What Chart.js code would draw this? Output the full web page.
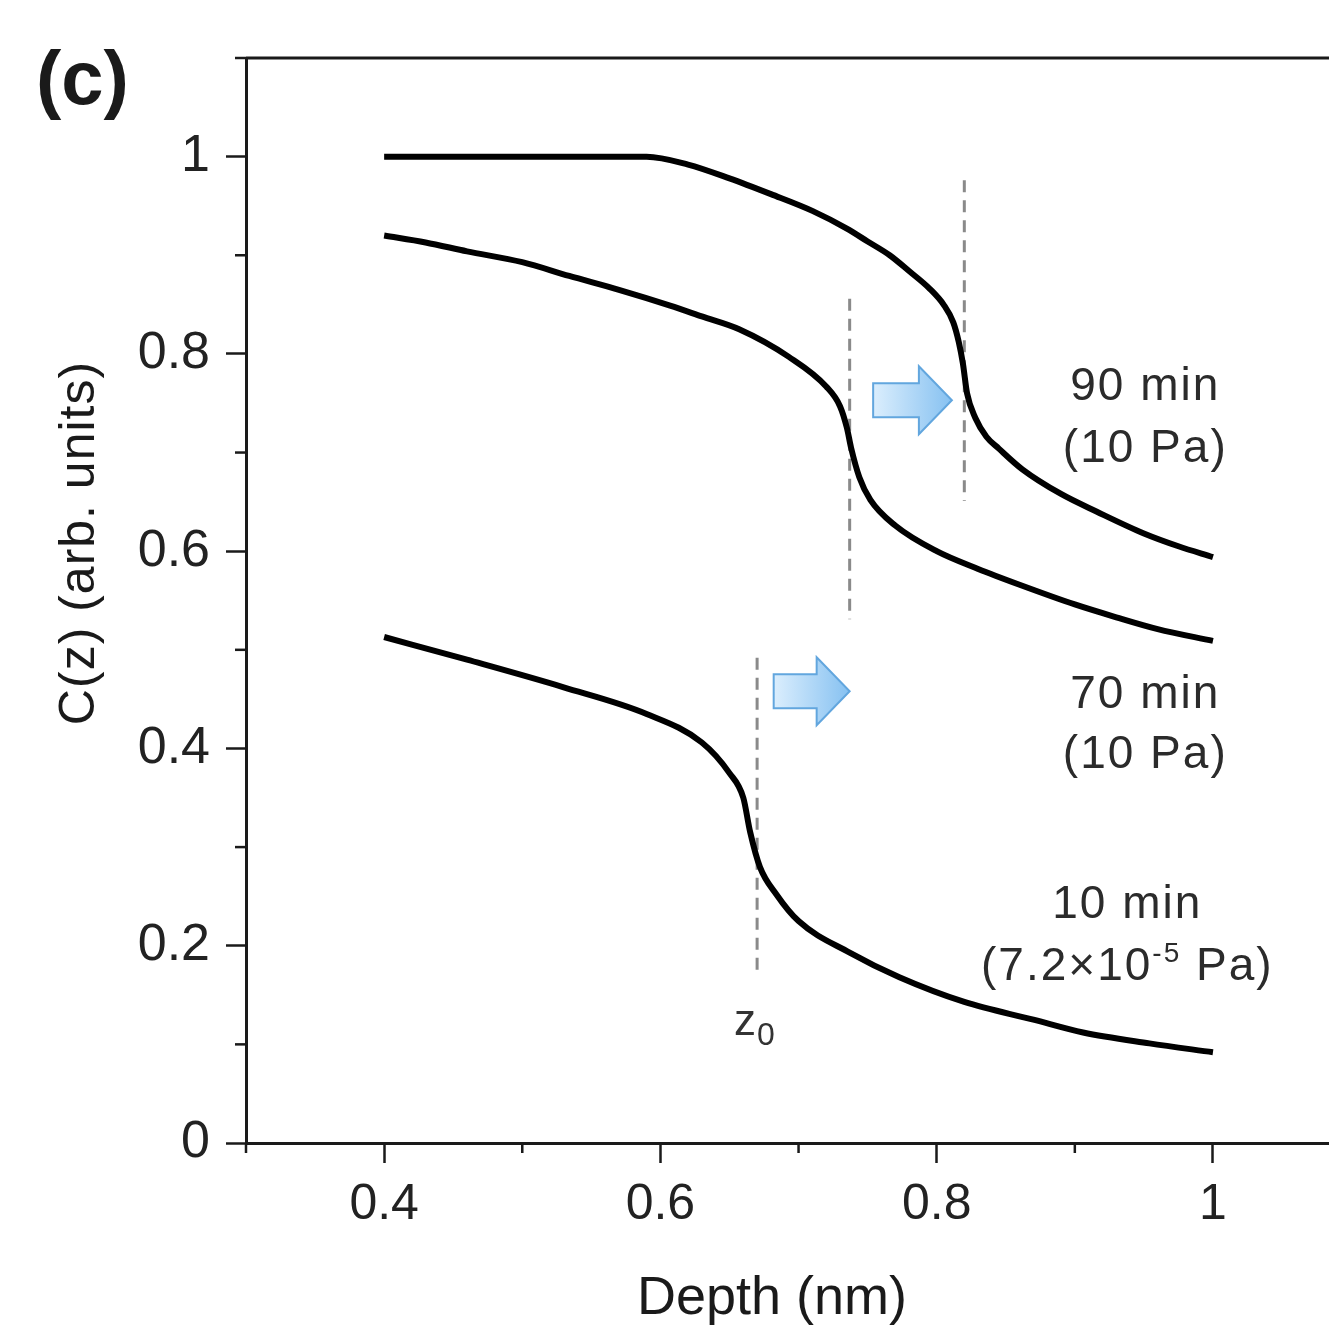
<!DOCTYPE html>
<html>
<head>
<meta charset="utf-8">
<script src="https://cdn.jsdelivr.net/npm/chart.js@4.4.1/dist/chart.umd.min.js"></script>
<style>
  html, body { margin: 0; padding: 0; background: #fff; }
  #wrap { width: 1329px; height: 1338px; position: relative; }
</style>
</head>
<body>
<div id="wrap"><canvas id="chartCz"></canvas></div>
<script>
// C(z) vs depth, three annealing times
const depth90 = [0.40, 0.50, 0.59, 0.62, 0.65, 0.68, 0.71, 0.735, 0.75, 0.766, 0.78, 0.795, 0.805, 0.812, 0.816, 0.819, 0.822, 0.828, 0.836, 0.845, 0.862, 0.89, 0.916, 0.95, 0.975, 1.0];
const cz90 = [1.000, 1.000, 1.000, 0.992, 0.978, 0.962, 0.945, 0.927, 0.914, 0.900, 0.884, 0.866, 0.850, 0.832, 0.812, 0.790, 0.760, 0.735, 0.716, 0.704, 0.683, 0.658, 0.640, 0.618, 0.605, 0.594];

const depth70 = [0.40, 0.43, 0.46, 0.50, 0.534, 0.57, 0.607, 0.63, 0.657, 0.693, 0.72, 0.73, 0.735, 0.738, 0.744, 0.752, 0.77, 0.80, 0.83, 0.86, 0.90, 0.93, 0.96, 1.0];
const cz70 = [0.920, 0.913, 0.904, 0.893, 0.879, 0.865, 0.849, 0.838, 0.825, 0.797, 0.767, 0.747, 0.725, 0.705, 0.675, 0.652, 0.626, 0.600, 0.582, 0.566, 0.546, 0.533, 0.521, 0.509];

const depth10 = [0.40, 0.46, 0.53, 0.59, 0.63, 0.65, 0.66, 0.665, 0.672, 0.684, 0.70, 0.737, 0.773, 0.82, 0.87, 0.906, 0.954, 1.0];
const cz10 = [0.513, 0.490, 0.462, 0.435, 0.406, 0.375, 0.350, 0.315, 0.280, 0.252, 0.225, 0.193, 0.168, 0.143, 0.125, 0.112, 0.101, 0.092];

// z0 markers (dashed) and shift arrows
const z0Depth = [0.670, 0.737, 0.820];
const z0Top = [0.492, 0.856, 0.976];
const z0Bottom = [0.168, 0.531, 0.651];
const arrowFrom = [0.682, 0.754];
const arrowTo = [0.737, 0.811];
const arrowY = [0.458, 0.753];

// axis ticks
const xTicks = [0.4, 0.6, 0.8, 1.0];
const xMinor = [0.3, 0.5, 0.7, 0.9];
const yTicks = [0, 0.2, 0.4, 0.6, 0.8, 1.0];
const yMinor = [0.1, 0.3, 0.5, 0.7, 0.9, 1.1];

// curve labels
const labelX = [0.951, 0.951, 0.938];
const labelTime = ['90 min', '70 min', '10 min'];
const labelTimeY = [0.7535, 0.441, 0.228];
const labelPress = [['(10 Pa)'], ['(10 Pa)'], ['(7.2×10', '-5', ' Pa)']];
const labelPressY = [0.690, 0.380, 0.165];

const FONT = '"Liberation Sans", Arial, sans-serif';
const INK = '#1a1a1a';

const pts = (xs, ys) => xs.map((v, i) => ({ x: v, y: ys[i] }));

const curve = (label, xs, ys) => ({
    label: label,
    data: pts(xs, ys),
    borderColor: '#000',
    borderWidth: 6,
    pointRadius: 0,
    cubicInterpolationMode: 'monotone',
    fill: false,
    order: 1
});

const datasets = [
    curve('90 min', depth90, cz90),
    curve('70 min', depth70, cz70),
    curve('10 min', depth10, cz10)
];
z0Depth.forEach((d, i) => {
    datasets.push({
        label: 'z0 ' + i,
        data: [{ x: d, y: z0Top[i] }, { x: d, y: z0Bottom[i] }],
        borderColor: '#8a8a8a',
        borderWidth: 3,
        borderDash: [12, 8],
        pointRadius: 0,
        fill: false,
        order: 2
    });
});

// arrows, labels, minor ticks, frame, titles
const decor = {
    id: 'decor',
    afterDraw(chart) {
        const { ctx, chartArea: a, scales: { x, y } } = chart;
        ctx.save();

        // top frame line
        ctx.strokeStyle = INK;
        ctx.lineWidth = 3;
        ctx.beginPath();
        ctx.moveTo(a.left, a.top);
        ctx.lineTo(a.right, a.top);
        ctx.stroke();

        // minor ticks
        ctx.lineWidth = 2.5;
        xMinor.forEach(v => {
            const px = x.getPixelForValue(v);
            ctx.beginPath();
            ctx.moveTo(px, a.bottom);
            ctx.lineTo(px, a.bottom + 10);
            ctx.stroke();
        });
        yMinor.forEach(v => {
            const py = y.getPixelForValue(v);
            ctx.beginPath();
            ctx.moveTo(a.left - 11, py);
            ctx.lineTo(a.left, py);
            ctx.stroke();
        });

        // blue arrows
        arrowFrom.forEach((v, i) => {
            const x0 = x.getPixelForValue(v);
            const x1 = x.getPixelForValue(arrowTo[i]);
            const cy = y.getPixelForValue(arrowY[i]);
            const hb = x1 - 33;
            const g = ctx.createLinearGradient(x0, 0, x1, 0);
            g.addColorStop(0, '#dbeefd');
            g.addColorStop(1, '#86c1f1');
            ctx.beginPath();
            ctx.moveTo(x0, cy - 17);
            ctx.lineTo(hb, cy - 17);
            ctx.lineTo(hb, cy - 34);
            ctx.lineTo(x1, cy);
            ctx.lineTo(hb, cy + 34);
            ctx.lineTo(hb, cy + 17);
            ctx.lineTo(x0, cy + 17);
            ctx.closePath();
            ctx.fillStyle = g;
            ctx.fill();
            ctx.strokeStyle = '#62a6de';
            ctx.lineWidth = 2;
            ctx.stroke();
        });

        // curve labels
        ctx.fillStyle = '#2b2b2b';
        ctx.textBaseline = 'alphabetic';
        ctx.letterSpacing = '2px';
        labelX.forEach((v, i) => {
            const cx = x.getPixelForValue(v);
            ctx.font = '46px ' + FONT;
            ctx.textAlign = 'center';
            ctx.fillText(labelTime[i], cx, y.getPixelForValue(labelTimeY[i]));
            // second line, with optional superscript part
            const parts = labelPress[i];
            const fonts = parts.map((p, k) => (k === 1 ? '28px ' : '46px ') + FONT);
            let w = 0;
            const ws = parts.map((p, k) => { ctx.font = fonts[k]; const m = ctx.measureText(p).width; w += m; return m; });
            let px = cx - w / 2;
            const by = y.getPixelForValue(labelPressY[i]);
            ctx.textAlign = 'left';
            parts.forEach((p, k) => {
                ctx.font = fonts[k];
                ctx.fillText(p, px, k === 1 ? by - 18 : by);
                px += ws[k];
            });
        });
        ctx.letterSpacing = '0px';

        // z0 label under the first marker
        const zx = x.getPixelForValue(z0Depth[0]);
        const zy = y.getPixelForValue(z0Bottom[0]);
        ctx.fillStyle = '#333';
        ctx.font = '44px ' + FONT;
        ctx.textAlign = 'right';
        ctx.fillText('z', zx - 1, zy + 58);
        ctx.font = '32px ' + FONT;
        ctx.textAlign = 'left';
        ctx.fillText('0', zx, zy + 68);

        // panel letter
        ctx.fillStyle = INK;
        ctx.font = 'bold 76px ' + FONT;
        ctx.textAlign = 'left';
        ctx.fillText('(c)', 36, 104);

        // axis titles
        ctx.font = '54px ' + FONT;
        ctx.textAlign = 'center';
        ctx.fillText('Depth (nm)', 772, 1314);

        ctx.translate(94, 543);
        ctx.rotate(-Math.PI / 2);
        ctx.font = '50px ' + FONT;
        ctx.letterSpacing = '1px';
        ctx.fillText('C(z) (arb. units)', 0, 0);
        ctx.restore();
    }
};

const ctxCz = document.getElementById('chartCz').getContext('2d');
new Chart(ctxCz, {
    type: 'line',
    data: { datasets: datasets },
    options: {
        responsive: true,
        maintainAspectRatio: false,
        animation: false,
        devicePixelRatio: 1,
        layout: { padding: { top: 58, left: 0, right: 0, bottom: 0 } },
        plugins: {
            legend: { display: false },
            tooltip: { enabled: false }
        },
        scales: {
            x: {
                type: 'linear',
                min: 0.3,
                max: 1.084,
                afterBuildTicks: s => { s.ticks = xTicks.map(v => ({ value: v })); },
                afterFit: s => { s.height = 195; },
                border: { display: true, color: INK, width: 3 },
                grid: { drawOnChartArea: false, drawTicks: true, tickLength: 20, tickWidth: 2.5, tickColor: INK },
                ticks: {
                    color: '#222',
                    font: { family: FONT, size: 50 },
                    padding: 12,
                    maxRotation: 0,
                    callback: v => String(Number(v.toFixed(1)))
                }
            },
            y: {
                type: 'linear',
                min: 0,
                max: 1.1,
                afterBuildTicks: s => { s.ticks = yTicks.map(v => ({ value: v })); },
                afterFit: s => { s.width = 246; },
                border: { display: true, color: INK, width: 3 },
                grid: { drawOnChartArea: false, drawTicks: true, tickLength: 20, tickWidth: 2.5, tickColor: INK },
                ticks: {
                    color: '#222',
                    font: { family: FONT, size: 52 },
                    padding: 16,
                    callback: v => String(Number(v.toFixed(1)))
                }
            }
        }
    },
    plugins: [decor]
});
</script>
</body>
</html>
